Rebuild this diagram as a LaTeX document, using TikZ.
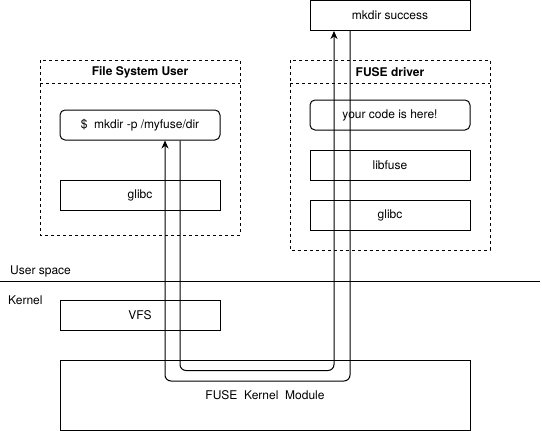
\documentclass[tikz,border=0pt]{standalone}
\usepackage{fontspec}
\setmainfont{TeX Gyre Heros}
\usetikzlibrary{arrows.meta}

\tikzset{
  box/.style={draw, line width=1pt, minimum width=160pt, minimum height=30pt, inner sep=0pt,
    font=\fontsize{12}{14}\selectfont},
  roundbox/.style={box, rounded corners=5pt},
  group/.style={draw, line width=1pt, dash pattern=on 3pt off 3pt},
  title/.style={font=\fontsize{12}{14}\selectfont\bfseries},
  label/.style={font=\fontsize{12}{14}\selectfont, inner sep=0pt},
  flow/.style={line width=1pt, rounded corners=6pt, -{Stealth[length=8pt,width=7pt]}}
}

\begin{document}
\begin{tikzpicture}[x=1pt,y=-1pt]

  \useasboundingbox (0,0) rectangle (542,431);

  % user side
  \draw[group] (40,60) rectangle (240,235);
  \draw[group] (40,83) -- (240,83);
  \node[title] (usertitle) at (140,72) {File System User};
  \node[roundbox] (cmd) at (140,125) {\$\ \ mkdir -p /myfuse/dir};
  \node[box] (glibcuser) at (140,195) {glibc};

  % fuse driver side
  \draw[group] (290,60) rectangle (490,250);
  \draw[group] (290,83) -- (490,83);
  \node[title] (drivertitle) at (390,72) {FUSE driver};
  \node[roundbox] (code) at (390,115) {your code is here!};
  \node[box] (libfuse) at (390,165) {libfuse};
  \node[box] (glibcdriver) at (390,215) {glibc};

  \node[box] (success) at (390,15.5) {mkdir success};

  % user space / kernel split
  \draw[line width=1pt] (0,281) -- (540,281);
  \node[label, anchor=west] (userspace) at (10,271) {User space};
  \node[label, anchor=west] (kernel) at (8,300) {Kernel};

  % kernel
  \node[box] (vfs) at (140,315) {VFS};
  \node[box, minimum width=410pt, minimum height=70pt] (fkm) at (265,395) {FUSE\ \ Kernel\ \ Module};

  % request and reply paths
  \draw[flow] ([xshift=40pt]cmd.south) -- ++(0,230) -| ([xshift=-56pt]success.south);
  \draw[flow] ([xshift=-40pt]success.south) -- ++(0,350) -| ([xshift=25pt]cmd.south);

\end{tikzpicture}
\end{document}
